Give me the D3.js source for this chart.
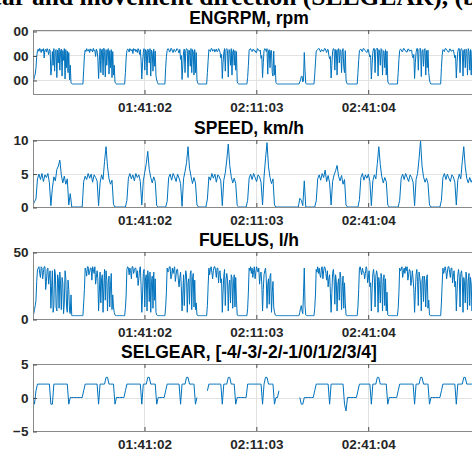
<!DOCTYPE html>
<html>
<head>
<meta charset="utf-8">
<script src="https://cdn.jsdelivr.net/npm/d3@7"></script>
<style>
  body { margin: 0; background: #fff; }
  .title { font: bold 17.5px "Liberation Sans", Arial, sans-serif; fill: #000; }
  .axis text { font: bold 13.5px "Liberation Sans", Arial, sans-serif; fill: #262626; }
  .caption { font: bold 25.5px "Liberation Serif", "Times New Roman", serif; fill: #000; }
</style>
</head>
<body>
<svg id="chart"></svg>
<script>
// figure size, same as the browser window
const width = 472;
const height = 450;

// time axis: first logged sample and the logging step of each signal (s)
const startTime = "01:11:15";
const sampleSteps = [12, 24, 12, 24];
const xTickLabels = ["01:41:02", "02:11:03", "02:41:04"];

const panelTitles = [
  "ENGRPM, rpm",
  "SPEED, km/h",
  "FUELUS, l/h",
  "SELGEAR, [-4/-3/-2/-1/0/1/2/3/4]"
];
const yDomains = [[714, 2020], [0, 10], [0, 50], [-5, 5]];
const yTickValues = [[1000, 1500, 2000], [0, 5, 10], [0, 50], [-5, 0, 5]];

// engine speed, rpm (12 s samples; one line per work cycle / idle stretch)
const engrpm = [
  960, 1000, 1070, 1120, 1250, 1480, 1600, 1630, 1585, 1645, 1610, 1560, 1625, 1590, 1640, 1450, 1615, 1630, 1570, 1640, 1595, 1520, 1630, 1600, 1100, 1250, 1580, 1300, 1640, 1180, 1600, 1620, 1050, 1610, 1350, 1650, 1200, 1590, 1630, 1080, 1600, 1400, 1640, 1020, 1620, 1250, 1590, 1150, 1560, 1000, 1300, 940, 925, 918,
  918, 918, 918, 918, 918, 918, 918, 918, 918, 918, 918, 918, 918, 918,
  1200, 1500, 1610, 1580, 1640, 1600, 1590, 1625, 1560, 1635, 1600, 1620, 1570, 1645, 1595, 1610, 1480, 1630, 1590, 1450, 1030, 1400, 1640, 1150, 1610, 1630, 1100, 1650, 1580, 1060, 1620, 1300, 1590, 1640, 1120, 1600, 1250, 1620, 1050, 1580, 1100, 1300, 960, 930,
  918, 918, 918, 918, 918, 918, 918, 918, 918, 918, 918, 918,
  1150, 1450, 1600, 1630, 1620, 1570, 1640, 1610, 1590, 1625, 1540, 1640, 1605, 1630, 1580, 1615, 1560, 1640, 1600, 1520, 1620, 1400, 1020, 1350, 1560, 1640, 1200, 1620, 1590, 1100, 1630, 1600, 1350, 1640, 1080, 1610, 1560, 1180, 1630, 1280, 1590, 1080, 1000, 950,
  918, 918, 918, 918, 918, 918, 918, 918, 918, 918,
  1250, 1480, 1600, 1640, 1630, 1575, 1580, 1645, 1640, 1590, 1560, 1620, 1620, 1575, 1590, 1640, 1630, 1600, 1550, 1625, 1420, 1500, 1010, 1300, 1580, 1630, 1150, 1600, 1640, 1620, 1050, 1610, 1600, 1280, 1640, 1150, 1620, 1580, 1100, 1620, 1150, 1560, 1000, 940,
  918, 918, 918, 918, 918, 918, 918, 918, 918, 918, 918, 918,
  1150, 1400, 1620, 1600, 1580, 1640, 1640, 1590, 1600, 1625, 1570, 1610, 1630, 1575, 1590, 1640, 1610, 1560, 1450, 1520, 1030, 1350, 1550, 1640, 1180, 1620, 1640, 1600, 1060, 1620, 1590, 1300, 1640, 1100, 1580, 1620, 1300, 1600, 1200, 1580, 960, 930,
  918, 918, 918, 918, 918, 918, 918, 918, 918, 918, 918, 918,
  1050, 1300, 1610, 1630, 1640, 1600, 1580, 1625, 1620, 1590, 1600, 1560, 1560, 1640, 1630, 1600, 1590, 1610, 1440, 1500, 1050, 1350, 1600, 1640, 1620, 1580, 1640, 1120, 1590, 1620, 1250, 1600, 1600, 1150, 1080, 1590, 1100, 1300, 940, 925,
  918, 918, 918, 918, 918, 918, 918, 918, 918, 918, 918, 918, 918, 918, 918, 918, 918, 918, 918, 918, 918, 918, 918, 918, 918, 918, 918, 918, 918, 918,
  960, 1000, 1070, 1080, 960, 1000, 1560, 1200, 930, 920,
  918, 918, 918, 918, 918, 918, 918, 918, 918, 918,
  1100, 1350, 1590, 1610, 1620, 1640, 1640, 1600, 1570, 1620, 1610, 1590, 1590, 1640, 1640, 1600, 1560, 1620, 1620, 1500, 1430, 1480, 1040, 1300, 1580, 1640, 1630, 1200, 1620, 1610, 1100, 1620, 1640, 1350, 1620, 1600, 1150, 1590, 1640, 1250, 1150, 1600, 1000, 940,
  918, 918, 918, 918, 918, 918, 918, 918, 918, 918, 918, 918, 918, 918,
  1150, 1400, 1600, 1620, 1630, 1590, 1580, 1640, 1640, 1610, 1600, 1575, 1560, 1620, 1620, 1540, 1470, 1500, 1020, 1300, 1570, 1640, 1640, 1150, 1620, 1630, 1650, 1080, 1620, 1600, 1300, 1640, 1620, 1100, 1600, 1580, 1250, 1620, 1100, 1590, 980, 930,
  918, 918, 918, 918, 918, 918, 918, 918, 918, 918, 918, 918,
  1150, 1420, 1600, 1630, 1620, 1580, 1580, 1640, 1640, 1605, 1600, 1570, 1570, 1630, 1630, 1590, 1590, 1610, 1610, 1500, 1450, 1520, 1030, 1350, 1560, 1640, 1640, 1200, 1620, 1640, 1640, 1070, 1590, 1620, 1280, 1610, 1640, 1100, 1600, 1250, 1610, 1150, 1000, 940,
  918, 918, 918, 918, 918, 918, 918, 918, 918, 918, 918, 918, 918, 918,
  1250, 1500, 1620, 1600, 1580, 1640, 1640, 1610, 1600, 1570, 1570, 1630, 1630, 1590, 1590, 1610, 1610, 1540, 1450, 1500, 1040, 1350, 1580, 1640, 1640, 1150, 1620, 1640, 1600, 1080, 1610, 1620, 1250, 1630, 1600, 1100, 1640, 1580, 1200, 1620, 1100, 1600, 1580, 1300
];

// ground speed, km/h (24 s samples)
const speed = [
  0.3, 0.8, 1.2, 4.2, 4.9, 4.1, 5.0, 3.8, 4.8, 4.4, 5.0, 3.6, 0.2, 2.8, 4.5, 3.9, 5.6, 6.1, 7.0, 4.8, 3.6, 4.6, 3.4, 4.2, 0.3, 2.0, 0,
  0, 0, 0, 0, 0, 0, 0,
  3.8, 4.6, 4.1, 5.0, 4.3, 4.9, 3.7, 4.8, 4.4, 3.9, 0.2, 3.6, 4.8, 4.1, 6.8, 9.0, 6.0, 4.2, 3.4, 4.0, 0.4,
  0, 0, 0, 0, 0, 0, 0, 0,
  1.0, 4.3, 5.0, 4.2, 4.8, 3.9, 5.0, 4.4, 4.8, 3.8, 0.3, 3.9, 5.2, 6.5, 8.3, 5.6, 4.4, 3.6, 4.5, 3.8, 0.2,
  0, 0, 0, 0, 0, 0,
  0.8, 4.4, 4.9, 4.0, 5.0, 4.5, 3.8, 4.9, 4.3, 3.5, 0.1, 4.2, 5.3, 6.6, 9.0, 5.8, 4.6, 3.5, 4.4, 3.6, 0.3,
  0, 0, 0, 0, 0, 0,
  1.2, 4.5, 4.0, 5.0, 4.3, 4.9, 3.7, 4.8, 4.5, 3.9, 0.2, 4.0, 5.1, 7.0, 9.4, 6.2, 4.5, 3.6, 4.3, 3.5, 0.2,
  0, 0, 0, 0, 0, 0,
  1.0, 4.3, 4.9, 4.1, 5.0, 4.4, 3.8, 4.8, 4.5, 3.7, 0.3, 4.5, 7.2, 9.6, 6.0, 4.4, 3.5, 4.2, 0.3,
  0, 0, 0, 0, 0, 0, 0, 0, 0, 0, 0, 0, 0, 0, 0, 0,
  1.3, 1.0, 0.2, 3.9, 0, 0, 0, 0, 0, 0, 0,
  0.9, 4.2, 4.8, 4.0, 5.0, 4.4, 5.5, 3.8, 4.7, 3.6, 0.3, 3.8, 4.8, 5.4, 6.2, 4.6, 3.9, 4.7, 3.4, 4.1, 0.3,
  0, 0, 0, 0, 0, 0, 0, 0,
  1.1, 4.4, 5.0, 4.0, 4.8, 4.3, 4.9, 3.8, 0.2, 3.9, 4.8, 4.2, 6.5, 9.0, 6.3, 4.5, 3.6, 4.4, 3.8, 0.3,
  0, 0, 0, 0, 0, 0, 0,
  1.0, 4.3, 4.9, 4.1, 5.0, 4.4, 3.8, 4.8, 4.4, 3.7, 0.2, 4.1, 5.0, 7.2, 9.9, 6.1, 4.5, 3.7, 4.3, 3.5, 0.3,
  0, 0, 0, 0, 0, 0, 0,
  1.0, 4.4, 5.0, 4.1, 4.9, 4.3, 3.8, 4.8, 4.5, 3.7, 0.3, 4.0, 4.9, 4.2, 6.8, 9.0, 6.0, 4.3, 3.6, 4.4, 3.7, 4.2
];

// fuel use, l/h (12 s samples)
const fuelus = [
  3, 4, 7, 10, 14, 28, 37, 38, 39, 34, 31, 39, 38, 30, 35, 39, 39, 22, 28, 37, 38, 26, 33, 36, 8, 24, 36, 5, 10, 37, 34, 9, 6, 33, 30, 8, 35, 26, 7, 31, 27, 4, 12, 36, 31, 9, 5, 29, 22, 6, 4, 18, 2.6, 2.5,
  2.5, 2.5, 2.5, 2.5, 2.5, 2.5, 2.5, 2.5, 2.5, 2.5, 2.5, 2.5, 2.5, 2.5,
  12, 22, 38, 36, 32, 39, 39, 33, 35, 38, 38, 29, 39, 37, 34, 39, 26, 31, 36, 30, 6, 20, 35, 12, 30, 33, 5, 24, 37, 14, 36, 29, 6, 27, 32, 9, 25, 34, 7, 18, 9, 5, 3, 2.6,
  2.5, 2.5, 2.5, 2.5, 2.5, 2.5, 2.5, 2.5, 2.5, 2.5, 2.5, 2.5,
  8, 18, 37, 39, 38, 33, 38, 36, 30, 39, 39, 34, 36, 38, 38, 31, 36, 25, 30, 37, 39, 25, 5, 18, 34, 37, 9, 31, 33, 6, 36, 30, 13, 35, 5, 28, 32, 8, 35, 14, 30, 5, 3, 2.6,
  2.5, 2.5, 2.5, 2.5, 2.5, 2.5, 2.5, 2.5, 2.5, 2.5,
  9, 20, 38, 35, 36, 39, 39, 30, 32, 38, 34, 37, 39, 28, 33, 37, 37, 29, 24, 31, 35, 24, 6, 18, 33, 10, 28, 36, 32, 5, 27, 30, 11, 34, 36, 7, 30, 34, 9, 29, 7, 12, 3, 2.6,
  2.5, 2.5, 2.5, 2.5, 2.5, 2.5, 2.5, 2.5, 2.5, 2.5, 2.5, 2.5,
  10, 25, 38, 33, 37, 39, 35, 30, 36, 39, 39, 36, 31, 38, 38, 27, 35, 36, 27, 30, 5, 20, 32, 37, 10, 29, 34, 30, 6, 25, 29, 12, 33, 31, 8, 27, 33, 9, 31, 14, 3, 2.6,
  2.5, 2.5, 2.5, 2.5, 2.5, 2.5, 2.5, 2.5, 2.5, 2.5, 2.5, 2.5,
  8, 20, 38, 36, 39, 34, 38, 31, 36, 39, 30, 35, 39, 37, 35, 38, 26, 33, 35, 26, 6, 22, 33, 36, 38, 30, 8, 26, 30, 11, 32, 34, 5, 20, 28, 9, 5, 3, 2.6, 2.5,
  2.5, 2.5, 2.5, 2.5, 2.5, 2.5, 2.5, 2.5, 2.5, 2.5, 2.5, 2.5, 2.5, 2.5, 2.5, 2.5, 2.5, 2.5, 2.5, 2.5, 2.5, 2.5, 2.5, 2.5, 2.5, 2.5, 2.5, 2.5, 2.5, 2.5,
  5, 8, 10, 6, 4, 20, 38, 10, 3, 2.6,
  2.5, 2.5, 2.5, 2.5, 2.5, 2.5, 2.5, 2.5, 2.5, 2.5,
  8, 18, 37, 35, 39, 34, 38, 33, 31, 38, 39, 30, 36, 39, 38, 34, 29, 36, 24, 30, 33, 20, 5, 19, 34, 37, 30, 11, 33, 28, 6, 25, 30, 14, 35, 31, 7, 24, 32, 8, 27, 12, 3, 2.6,
  2.5, 2.5, 2.5, 2.5, 2.5, 2.5, 2.5, 2.5, 2.5, 2.5, 2.5, 2.5, 2.5, 2.5,
  9, 22, 38, 39, 36, 33, 38, 35, 35, 30, 34, 39, 37, 27, 31, 36, 24, 27, 6, 22, 34, 37, 30, 9, 32, 36, 33, 5, 31, 26, 12, 34, 30, 6, 28, 33, 10, 30, 6, 20, 3, 2.6,
  2.5, 2.5, 2.5, 2.5, 2.5, 2.5, 2.5, 2.5, 2.5, 2.5, 2.5, 2.5,
  8, 20, 38, 36, 37, 39, 31, 35, 38, 34, 39, 36, 39, 29, 33, 37, 36, 25, 29, 36, 30, 22, 5, 20, 33, 37, 28, 10, 35, 31, 26, 6, 29, 32, 13, 32, 27, 9, 30, 33, 8, 14, 3, 2.6,
  2.5, 2.5, 2.5, 2.5, 2.5, 2.5, 2.5, 2.5, 2.5, 2.5, 2.5, 2.5, 2.5, 2.5,
  12, 26, 38, 34, 36, 39, 36, 30, 35, 39, 39, 35, 31, 38, 38, 27, 32, 36, 24, 28, 6, 20, 33, 37, 31, 9, 34, 36, 30, 5, 31, 27, 12, 35, 30, 7, 28, 34, 10, 31, 26, 6, 22, 28
];

// selected gear (24 s samples), null where the log has no value
const selgear = [
  0, -1, 1, 2, 2, 2, 2, 2, 2, 2, 2, 2, -1, -1, 2, 2, 2, 2, 2, 2, 2, 2, 2, 2, -1, 0,
  0, 0, 0, 0, 0, 0, 0, 0,
  1, 2, 2, 2, 2, 2, 2, 2, 2, 2, -1, 2, 2, 2, 2, 3, 3, 2, 2, 2, 2, -1,
  0, 0, 0, 0, 0, 0, 1,
  2, 2, 2, 2, 2, 2, 2, 2, 2, 2, -1, 2, 2, 2, 3, 3, 2, 2, 2, 2, -1,
  0, 0, 0, 0, 0, 1,
  2, 2, 2, 2, 2, 2, 2, 2, 2, -1, 2, 2, 2, 3, 3, 2, 2, 2, 2, -1, 0,
  null, null, null, null, null, null,
  1, 2, 2, 2, 2, 2, 2, 2, 2, 2, -1, 2, 2, 2, 3, 3, 2, 2, 2, -1,
  0, 0, 0, 0, 0, 0, 0,
  2, 2, 2, 2, 2, 2, 2, 2, 2, 2, -1, 2, 3, 3, 2, 2, 2, 2, -1, 0, 0, 1,
  null, null, null, null, null, null, null, null, null, null, null, null, null,
  0, -1, -1, 0, 0, 0, 0, 0, 0, 0, 1,
  2, 2, 2, 2, 2, 2, 2, 2, 2, -1, 2, 2, 2, 2, 2, 2, 2, 2, 2, -1, -2,
  0, 0, 0, 0, 0, 0, 0, 1,
  2, 2, 2, 2, 2, 2, 2, 2, -1, 2, 2, 2, 3, 3, 2, 2, 2, 2, 2, -1,
  0, 0, 0, 0, 0, 0, 1,
  2, 2, 2, 2, 2, 2, 2, 2, 2, 2, -1, 2, 2, 2, 3, 3, 2, 2, 2, 2, -1,
  0, 0, 0, 0, 0, 0, 0,
  1, 2, 2, 2, 2, 2, 2, 2, 2, 2, -1, 2, 2, 2, 2, 3, 3, 2, 2, 2, 2, 2
];

const series = [engrpm, speed, fuelus, selgear];

// layout of the four stacked axes (pixels)
const plotLeft = 33;
const plotRight = 497;   // the axes run past the right edge of the cropped figure
const panelTops = [30, 140, 252, 364];
const panelBottoms = [94, 207, 319, 431];

const lineColor = "#0072BD";
const gridColor = "#e2e2e2";
const frameColor = "#8a8a8a";
const tickColor = "#4d4d4d";

const svg = d3.select("#chart").attr("width", width).attr("height", height);
const defs = svg.append("defs");

const parseTime = d3.timeParse("%H:%M:%S");
const t0 = parseTime(startTime);
const x = d3.scaleTime()
  .domain([t0, d3.timeSecond.offset(t0, 7471)])
  .range([plotLeft, plotRight]);
const tickDates = xTickLabels.map(parseTime);

// cut-off caption line of the page above the figure
svg.append("text")
  .attr("class", "caption")
  .attr("x", -22)
  .attr("y", 5)
  .text("gear and movement direction (SELGEAR), (b)");

series.forEach((values, k) => drawPanel(k, values));

function drawPanel(k, values) {
  let top = panelTops[k];
  let bottom = panelBottoms[k];
  let step = sampleSteps[k];

  let y = d3.scaleLinear().domain(yDomains[k]).range([bottom, top]);
  let panel = svg.append("g").attr("id", "panel-" + k);

  defs.append("clipPath").attr("id", "clip-" + k)
    .append("rect")
    .attr("x", plotLeft)
    .attr("y", top)
    .attr("width", plotRight - plotLeft)
    .attr("height", bottom - top);

  // grid lines
  panel.append("g")
    .selectAll("line")
    .data(tickDates)
    .join("line")
    .attr("x1", d => Math.round(x(d)) + 0.5)
    .attr("x2", d => Math.round(x(d)) + 0.5)
    .attr("y1", top)
    .attr("y2", bottom)
    .attr("stroke", gridColor);

  panel.append("g")
    .selectAll("line")
    .data(yTickValues[k])
    .join("line")
    .attr("x1", plotLeft)
    .attr("x2", plotRight)
    .attr("y1", d => Math.round(y(d)) + 0.5)
    .attr("y2", d => Math.round(y(d)) + 0.5)
    .attr("stroke", gridColor);

  // the signal
  let line = d3.line()
    .defined(d => d != null)
    .x((d, i) => x(d3.timeSecond.offset(t0, i * step)))
    .y(d => y(d));

  panel.append("path")
    .datum(values)
    .attr("clip-path", "url(#clip-" + k + ")")
    .attr("fill", "none")
    .attr("stroke", lineColor)
    .attr("stroke-width", 1)
    .attr("stroke-linejoin", "round")
    .attr("d", line);

  // box
  panel.append("rect")
    .attr("x", plotLeft + 0.5)
    .attr("y", top + 0.5)
    .attr("width", plotRight - plotLeft)
    .attr("height", bottom - top)
    .attr("fill", "none")
    .attr("stroke", frameColor);

  // x axis, ticks pointing inwards, mirrored on top
  let xAxis = d3.axisBottom(x)
    .tickValues(tickDates)
    .tickFormat(d3.timeFormat("%H:%M:%S"))
    .tickSizeInner(-4)
    .tickSizeOuter(0)
    .tickPadding(8);

  let xg = panel.append("g")
    .attr("class", "axis")
    .attr("transform", translate(0.5, bottom))
    .call(xAxis);
  xg.select(".domain").remove();
  xg.selectAll("line").attr("stroke", tickColor);

  let xTop = panel.append("g")
    .attr("transform", translate(0.5, top))
    .call(d3.axisTop(x).tickValues(tickDates).tickFormat("").tickSizeInner(-4).tickSizeOuter(0));
  xTop.select(".domain").remove();
  xTop.selectAll("line").attr("stroke", tickColor);

  // y axis; the first panel's labels are cut by the page crop
  let yAxis = d3.axisLeft(y)
    .tickValues(yTickValues[k])
    .tickSizeInner(-4)
    .tickSizeOuter(0)
    .tickPadding(4.5);

  let yHolder = panel.append("g");
  if (k == 0) {
    defs.append("clipPath").attr("id", "label-crop")
      .append("rect").attr("x", 13).attr("y", 0).attr("width", width).attr("height", height);
    yHolder.attr("clip-path", "url(#label-crop)");
  }
  let yg = yHolder.append("g")
    .attr("class", "axis")
    .attr("transform", translate(plotLeft, 0.5))
    .call(yAxis);
  yg.select(".domain").remove();
  yg.selectAll("line").attr("stroke", tickColor);

  // title centred above the visible part of the axes
  panel.append("text")
    .attr("class", "title")
    .attr("x", 249)
    .attr("y", top - 5.7)
    .attr("text-anchor", "middle")
    .text(panelTitles[k]);
}

function translate(x, y) {
  return "translate(" + String(x) + "," + String(y) + ")";
}
</script>
</body>
</html>
